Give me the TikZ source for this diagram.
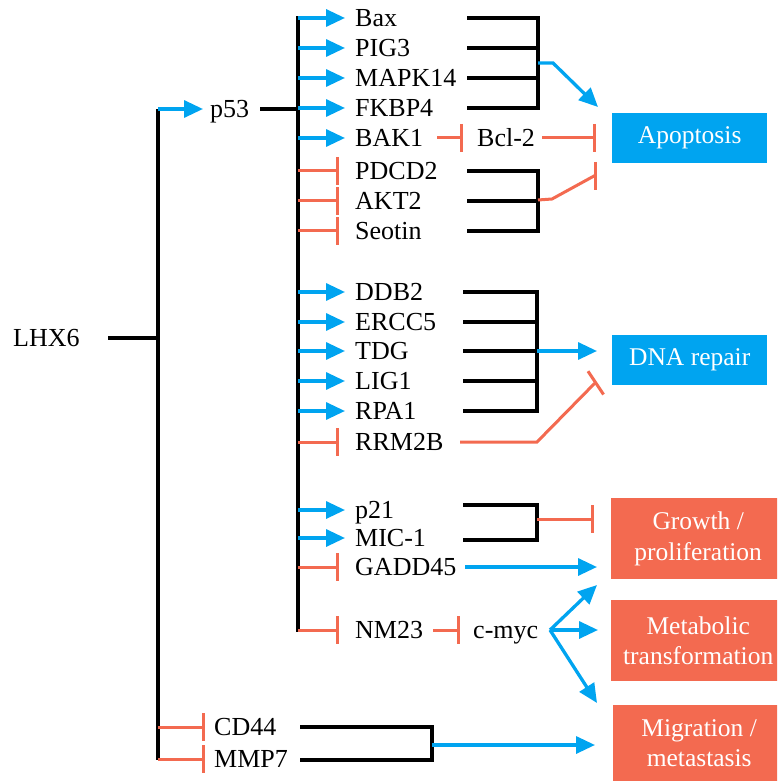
\documentclass[tikz,border=0pt]{standalone}
\usepackage{fontspec}
\setmainfont{Liberation Serif}
\usetikzlibrary{arrows.meta}
\definecolor{cblue}{RGB}{0,164,240}
\definecolor{cred}{RGB}{243,106,80}
\begin{document}
\begin{tikzpicture}[x=1pt,y=-1pt,
  every node/.style={inner sep=0pt, font=\fontsize{26}{30}\selectfont},
  lbl/.style={anchor=west, text height=22pt, text depth=5pt},
  act/.style={draw=cblue, line width=3.3pt, line join=miter, -{Triangle[length=19pt,width=17pt]}},
  inh/.style={draw=cred, line width=3pt, line join=miter, -{Bar[width=28pt]}},
  actg/.style={act, shorten >=10pt},
  inhg/.style={inh, shorten >=16pt},
  blk/.style={draw=black, line width=3.3pt, line join=miter},
  box/.style={anchor=north west, text=white, align=center, font=\fontsize{25.5}{30.5}\selectfont}]
\useasboundingbox (0,0) rectangle (777,783);
\clip (0,0) rectangle (777,783);

% outcome boxes
\node[box, fill=cblue, minimum width=155pt, minimum height=50pt] (apo) at (612,113) {Apoptosis};
\node[box, fill=cblue, minimum width=155pt, minimum height=50pt] (dna) at (612,335) {DNA repair};
\node[box, fill=cred, minimum width=174pt, minimum height=81pt] (gro) at (611,498) {Growth /\\proliferation};
\node[box, fill=cred, minimum width=174pt, minimum height=81pt] (met) at (611,600) {Metabolic\\transformation};
\node[box, fill=cred, minimum width=172pt, minimum height=76pt] (mig) at (613,705) {Migration /\\metastasis};

% LHX6 and p53
\node[lbl] (lhx) at (13,338) {LHX6};
\coordinate (lhx-r) at (108,338);
\coordinate (lb-top) at (158,109);
\coordinate (lb-bot) at (158,760);
\draw[blk] (lb-top) -- (lb-bot);
\draw[blk] (lhx-r) -- (lhx-r -| lb-top);
\node[lbl] (p53) at (210,109) {p53};
\draw[act, shorten >=7pt] (lb-top) -- (p53.west);
\coordinate (p53-r) at (260,109);
\coordinate (mb-top) at (298,16.4);
\coordinate (mb-bot) at (298,631.6);
\draw[blk] (mb-top) -- (mb-bot);
\draw[blk] (p53-r) -- (p53-r -| mb-top);

% p53 targets
\foreach \n/\y/\t/\s in {bax/18/Bax/actg, pig/48/PIG3/actg, mapk/78/MAPK14/actg,
  fkbp/108/FKBP4/actg, bak/138/BAK1/actg, pdcd/171/PDCD2/inhg, akt/201/AKT2/inhg,
  seo/231/Seotin/inhg, ddb/292/DDB2/actg, ercc/322/ERCC5/actg, tdg/351/TDG/actg,
  lig/381/LIG1/actg, rpa/411/RPA1/actg, rrm/442/RRM2B/inhg, p21/510/p21/actg,
  mic/538/MIC-1/actg, gadd/567/GADD45/inhg, nm/630/NM23/inhg}{
  \node[lbl] (\n) at (355,\y) {\t};
  \coordinate (b-\n) at (298,\y);
  \draw[\s] (b-\n) -- (\n.west);
}

% apoptosis bracket (activators)
\foreach \n/\y in {bax/18, pig/48, mapk/78, fkbp/108}{\coordinate (r-\n) at (467,\y);}
\coordinate (jA) at (538,63);
\draw[blk] (r-bax) -| (jA |- r-fkbp) -- (r-fkbp);
\draw[blk] (r-pig) -- (r-pig -| jA);
\draw[blk] (r-mapk) -- (r-mapk -| jA);
\coordinate (apo-in1) at (598,107);
\draw[act] (jA) -- ++(15,0) -- (apo-in1);

% BAK1 -| Bcl-2 -| Apoptosis
\node[lbl] (bcl) at (477,138) {Bcl-2};
\coordinate (r-bak) at (437,138);
\draw[inh, shorten >=14pt] (r-bak) -- (bcl.west);
\coordinate (apo-in2) at (596,138);
\draw[inh, shorten <=7pt] (bcl.east) -- (apo-in2);

% apoptosis bracket (inhibitors)
\foreach \n/\y in {pdcd/171, akt/201, seo/231}{\coordinate (r-\n) at (467,\y);}
\coordinate (jA2) at (538,200);
\draw[blk] (r-pdcd) -| (jA2 |- r-seo) -- (r-seo);
\draw[blk] (r-akt) -- (r-akt -| jA2);
\coordinate (apo-in3) at (597,176);
\draw[inh] (jA2) -- (552,199) -- (594,176) -- (apo-in3);

% DNA repair bracket
\foreach \n/\y in {ddb/292, ercc/322, tdg/351, lig/381, rpa/411}{\coordinate (r-\n) at (463,\y);}
\coordinate (jD) at (537,351);
\draw[blk] (r-ddb) -| (jD |- r-rpa) -- (r-rpa);
\draw[blk] (r-ercc) -- (r-ercc -| jD);
\draw[blk] (r-tdg) -- (jD);
\draw[blk] (r-lig) -- (r-lig -| jD);
\coordinate (dna-in1) at (597,351);
\draw[act] (jD) -- (dna-in1);
\coordinate (r-rrm) at (460,442);
\coordinate (dna-in2) at (597,382);
\draw[inh] (r-rrm) -- (537,442) -- (594,384) -- (dna-in2);

% growth
\coordinate (r-p21) at (463,505);
\coordinate (r-mic) at (463,540);
\coordinate (jG) at (537,519);
\draw[blk] (r-p21) -| (jG |- r-mic) -- (r-mic);
\coordinate (gro-in1) at (594,519);
\draw[inh] (jG) -- (gro-in1);
\coordinate (r-gadd) at (465,567);
\coordinate (gro-in2) at (597,567);
\draw[act] (r-gadd) -- (gro-in2);

% NM23 -| c-myc
\node[lbl] (cmyc) at (473,630) {c-myc};
\coordinate (r-nm) at (433,630);
\draw[inh, shorten >=13pt] (r-nm) -- (cmyc.west);
\coordinate (cm-r) at (550,630);
\coordinate (gro-in3) at (597,585);
\coordinate (met-in) at (598,630);
\coordinate (mig-in1) at (597,703);
\draw[act] (cm-r) -- (gro-in3);
\draw[act] (cm-r) -- (met-in);
\draw[act] (cm-r) -- (mig-in1);

% CD44 / MMP7
\node[lbl] (cd) at (214,727) {CD44};
\node[lbl] (mmp) at (214,759) {MMP7};
\coordinate (l-cd) at (158,727);
\coordinate (l-mmp) at (158,759);
\draw[inh, shorten >=9pt] (l-cd) -- (cd.west);
\draw[inh, shorten >=9pt] (l-mmp) -- (mmp.west);
\coordinate (r-cd) at (300,727);
\coordinate (r-mmp) at (300,760);
\coordinate (jM) at (432,745);
\draw[blk] (r-cd) -| (jM |- r-mmp) -- (r-mmp);
\coordinate (mig-in2) at (595,745);
\draw[act] (jM) -- (mig-in2);
\end{tikzpicture}
\end{document}
